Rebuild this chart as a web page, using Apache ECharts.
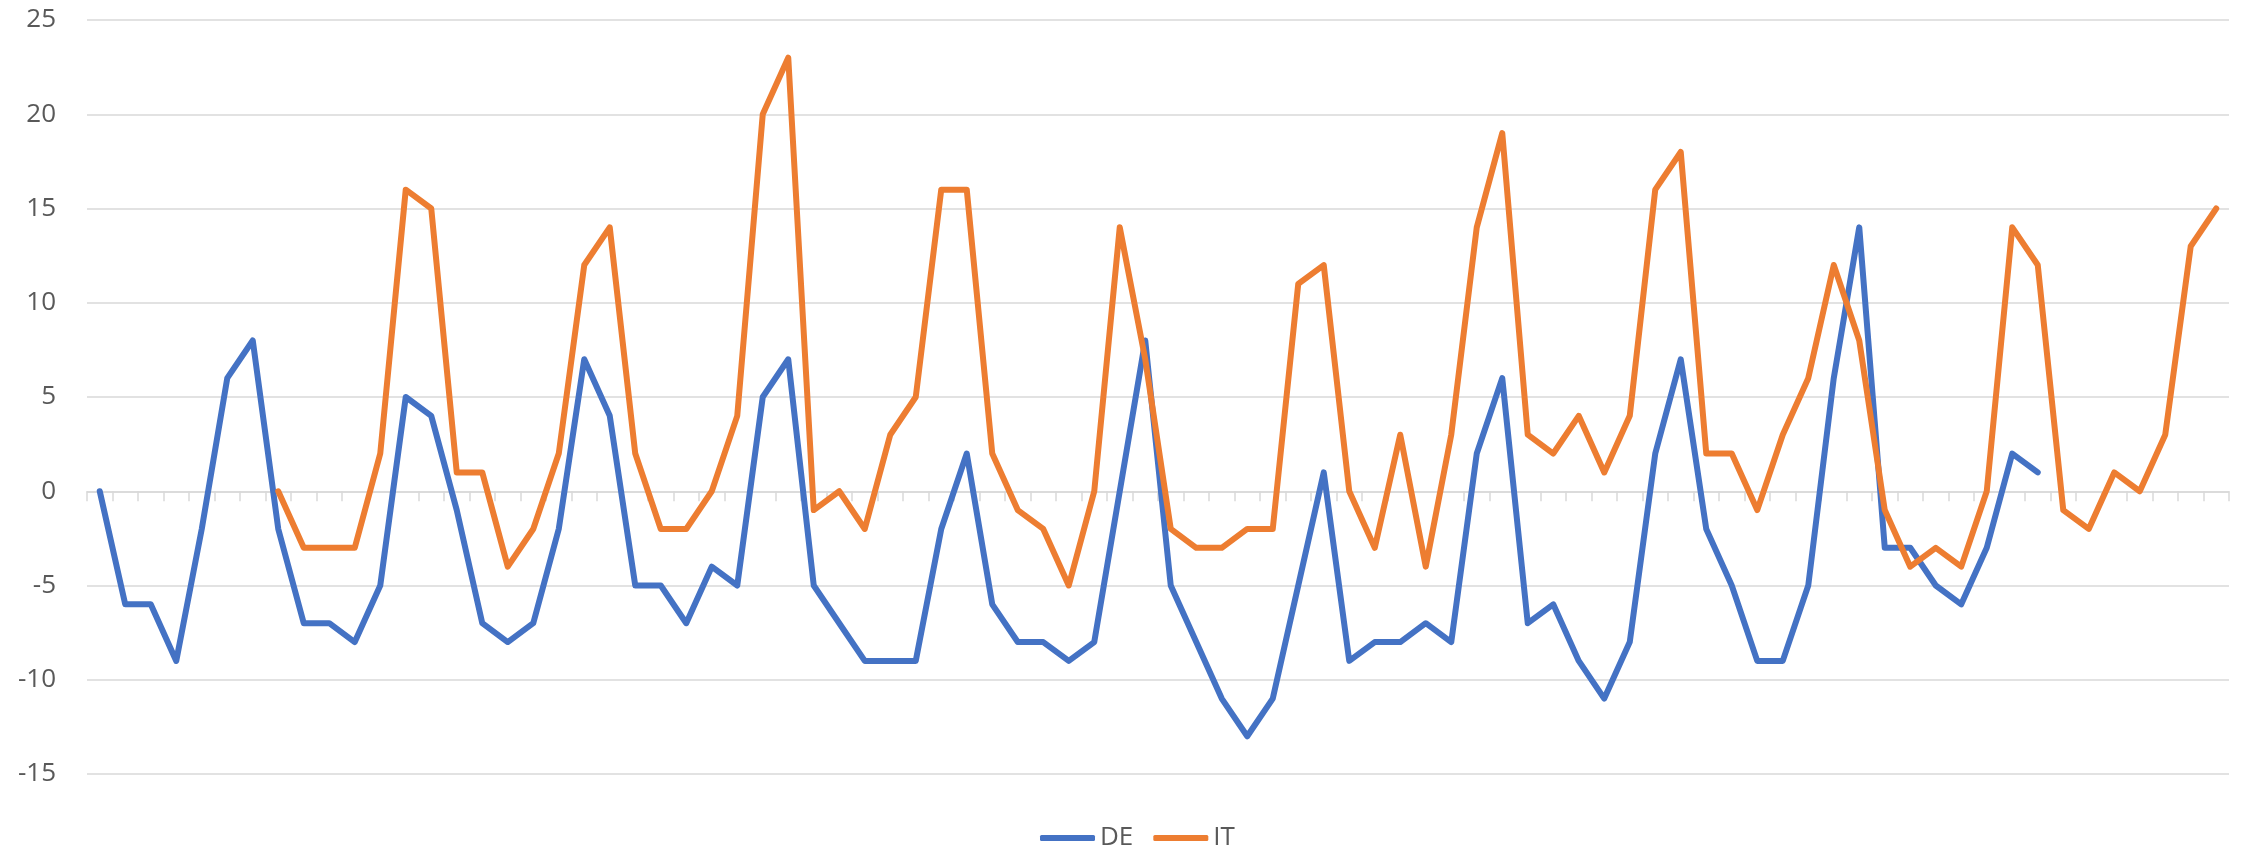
<!DOCTYPE html>
<html>
<head>
<meta charset="utf-8">
<script src="https://cdn.jsdelivr.net/npm/echarts@6/dist/echarts.min.js"></script>
<style>
html,body{margin:0;padding:0;background:#fff;}
#chart{width:2247px;height:849px;}
</style>
</head>
<body>
<div id="chart"></div>
<script>
// 84 periods (no category labels shown on the axis)
const categories = Array.from({length: 84}, (_, i) => String(i + 1));

const seriesNames = ['DE', 'IT'];

const deValues = [
  0, -6, -6, -9, -2, 6, 8, -2, -7, -7,
  -8, -5, 5, 4, -1, -7, -8, -7, -2, 7,
  4, -5, -5, -7, -4, -5, 5, 7, -5, -7,
  -9, -9, -9, -2, 2, -6, -8, -8, -9, -8,
  0, 8, -5, -8, -11, -13, -11, -5, 1, -9,
  -8, -8, -7, -8, 2, 6, -7, -6, -9, -11,
  -8, 2, 7, -2, -5, -9, -9, -5, 6, 14,
  -3, -3, -5, -6, -3, 2, 1, null, null, null,
  null, null, null, null
];

const itValues = [
  null, null, null, null, null, null, null, 0, -3, -3,
  -3, 2, 16, 15, 1, 1, -4, -2, 2, 12,
  14, 2, -2, -2, 0, 4, 20, 23, -1, 0,
  -2, 3, 5, 16, 16, 2, -1, -2, -5, 0,
  14, 7, -2, -3, -3, -2, -2, 11, 12, 0,
  -3, 3, -4, 3, 14, 19, 3, 2, 4, 1,
  4, 16, 18, 2, 2, -1, 3, 6, 12, 8,
  -1, -4, -3, -4, 0, 14, 12, -1, -2, 1,
  0, 3, 13, 15
];

const yTicks = { min: -15, max: 25, interval: 5 };

const colors = ['#4472C4', '#ED7D31'];
const font = '"Open Sans", "Liberation Sans", sans-serif';

function lineSeries(name, data, color) {
  return {
    name: name, type: 'line', data: data,
    symbol: 'none', showSymbol: false, connectNulls: false,
    color: color,
    lineStyle: { width: 6, color: color, cap: 'round', join: 'round' },
    emphasis: { disabled: true },
    itemStyle: { color: color }
  };
}

const chart = echarts.init(document.getElementById('chart'), null, {renderer: 'canvas'});
chart.setOption({
  animation: false,
  backgroundColor: '#ffffff',
  color: colors,
  grid: { left: 87, right: 18, top: 20, bottom: 75, containLabel: false },
  legend: {
    data: seriesNames,
    left: 1035,
    top: 817,
    icon: 'roundRect',
    itemWidth: 55,
    itemHeight: 6,
    itemGap: 20,
    textStyle: { fontFamily: font, fontSize: 26, color: '#595959', lineHeight: 32 }
  },
  xAxis: {
    type: 'category',
    data: categories,
    boundaryGap: true,
    axisLine: { show: true, onZero: true, lineStyle: { color: '#D9D9D9', width: 1.5 } },
    axisTick: { show: true, length: 10, interval: 0, lineStyle: { color: '#D9D9D9', width: 1.5 } },
    axisLabel: { show: false },
    splitLine: { show: false }
  },
  yAxis: {
    type: 'value',
    min: yTicks.min,
    max: yTicks.max,
    interval: yTicks.interval,
    axisLine: { show: false },
    axisTick: { show: false },
    axisLabel: { margin: 31, fontFamily: font, fontSize: 26, color: '#595959' },
    splitLine: { show: true, lineStyle: { color: '#D9D9D9', width: 1.5 } }
  },
  series: [
    lineSeries(seriesNames[0], deValues, colors[0]),
    lineSeries(seriesNames[1], itValues, colors[1])
  ]
});
</script>
</body>
</html>
